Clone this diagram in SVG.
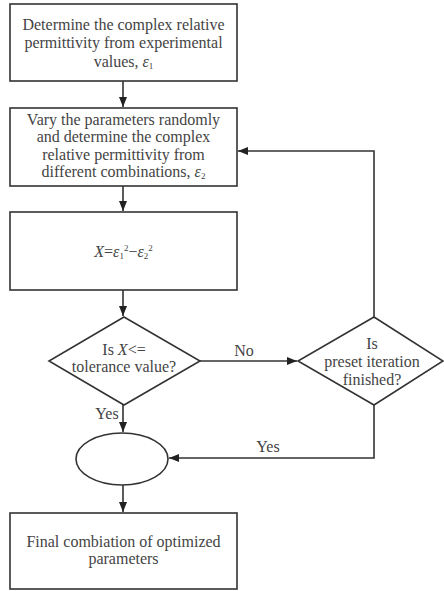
<svg xmlns="http://www.w3.org/2000/svg" width="444" height="591" viewBox="0 0 444 591">
<defs>
<marker id="ah" markerWidth="10" markerHeight="8" refX="10" refY="4" orient="auto" markerUnits="userSpaceOnUse">
<path d="M0,0 L10,4 L0,8 Z" fill="#222"/>
</marker>
<style>
.n{fill:#fff;stroke:#333;stroke-width:1.6}
.c{fill:none;stroke:#333;stroke-width:1.6}
text{font-family:'Liberation Serif','DejaVu Serif',serif;font-size:16px;fill:#444;text-anchor:middle}
.i{font-style:italic}
.s{font-size:9px}
</style>
</defs>
<rect width="444" height="591" fill="#fff"/>
<g font-family="Liberation Serif, serif">
<g id="connectors">
<line class="c" x1="123" y1="81" x2="123" y2="107" marker-end="url(#ah)"/>
<line class="c" x1="123" y1="186" x2="123" y2="211" marker-end="url(#ah)"/>
<line class="c" x1="123" y1="290" x2="123" y2="316" marker-end="url(#ah)"/>
<line class="c" x1="200" y1="361" x2="297" y2="361" marker-end="url(#ah)"/>
<polyline class="c" points="374,317 374,151 238,151" marker-end="url(#ah)"/>
<line class="c" x1="123" y1="405" x2="123" y2="432" marker-end="url(#ah)"/>
<polyline class="c" points="374,405 374,458 169,458" marker-end="url(#ah)"/>
<line class="c" x1="123" y1="485" x2="123" y2="512" marker-end="url(#ah)"/>
<text x="244" y="356">No</text>
<text x="107" y="419">Yes</text>
<text x="268" y="452">Yes</text>
</g>
<g id="n1">
<rect class="n" x="10" y="4" width="227" height="77"/>
<text x="123.5" y="30">Determine the complex relative</text>
<text x="123.5" y="48">permittivity from experimental</text>
<text x="123.5" y="67">values, <tspan class="i">ε</tspan><tspan class="s" dy="2">1</tspan></text>
</g>
<g id="n2">
<rect class="n" x="10" y="108" width="227" height="78"/>
<text x="123.5" y="125">Vary the parameters randomly</text>
<text x="123.5" y="142">and determine the complex</text>
<text x="123.5" y="160">relative permittivity from</text>
<text x="123.5" y="177">different combinations, <tspan class="i">ε</tspan><tspan class="s" dy="2">2</tspan></text>
</g>
<g id="n3">
<rect class="n" x="10" y="212" width="227" height="78"/>
<text x="123.5" y="257"><tspan class="i">X</tspan>=<tspan class="i">ε</tspan><tspan class="s" dy="2">1</tspan><tspan class="s" dy="-8">2</tspan><tspan dy="6">−</tspan><tspan class="i">ε</tspan><tspan class="s" dy="2">2</tspan><tspan class="s" dy="-8">2</tspan></text>
</g>
<g id="n4">
<polygon class="n" points="124,317 200,361 124,405 49,361"/>
<text x="124" y="355">Is <tspan class="i">X</tspan>&lt;=</text>
<text x="124" y="372">tolerance value?</text>
</g>
<g id="n5">
<polygon class="n" points="374,317 443,361 374,405 298,361"/>
<text x="372" y="349">Is</text>
<text x="372" y="367">preset iteration</text>
<text x="372" y="385">finished?</text>
</g>
<g id="n6">
<ellipse class="n" cx="122" cy="459" rx="46" ry="26"/>
</g>
<g id="n7">
<rect class="n" x="10" y="513" width="227" height="76"/>
<text x="123.5" y="547">Final combiation of optimized</text>
<text x="123.5" y="564">parameters</text>
</g>
</g>
</svg>
